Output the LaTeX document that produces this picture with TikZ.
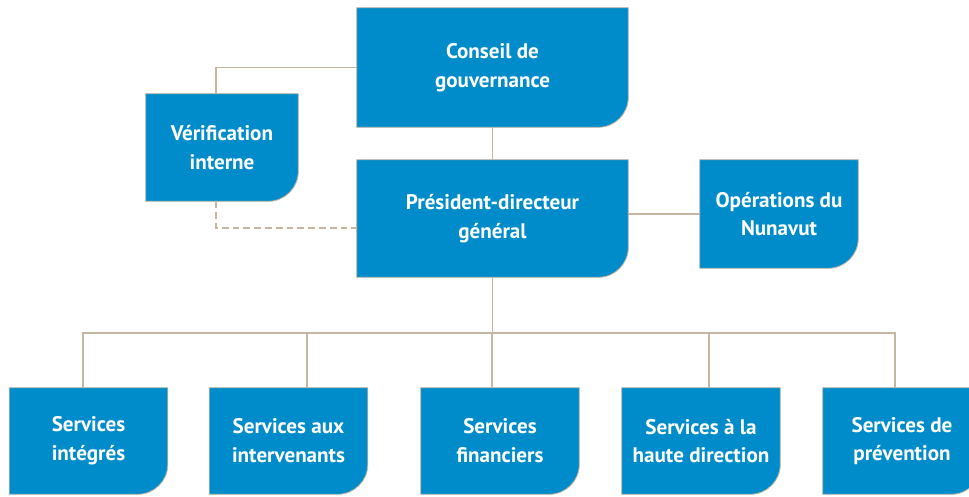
\documentclass[tikz,border=0pt]{standalone}
\usepackage{fontspec}
\setmainfont{PT Sans}
\usepackage{tikz}
\usetikzlibrary{backgrounds}
\definecolor{UNITCOLOR}{RGB}{0,140,202}
\definecolor{LINKCOLOR}{RGB}{196,182,160}
\newlength\unitRadius
\setlength\unitRadius{0.75cm}
\tikzset{
  unit-style/.style = {
    inner sep=2pt, align=center, text=white,
    font=\fontsize{15}{20.5}\selectfont\bfseries,
    minimum width=3.95cm,
    minimum height=2.65cm
  },
  top-style/.style = {
    unit-style,
    minimum width=6.775cm,
    minimum height=#1
  },
  side-style/.style = {
    unit-style,
    minimum width=#1,
    minimum height=2.7cm
  },
  link-style/.style = {
    draw=LINKCOLOR, line width=1.4pt
  },
  dashed-link-style/.style = {
    link-style, dash pattern=on 0.17cm off 0.1cm
  },
  shape-style/.style = {
    fill=UNITCOLOR, draw=LINKCOLOR, line width=0.6pt
  }
}
\def\createUnit name:#1 style:#2 at:#3 display:#4;{
  \node [#2] (#1) at (#3) {#4};
}
\newcommand\drawUnitShape[1]{
  \path[shape-style] (#1.north west) -- (#1.north east)
    -- ([yshift=\unitRadius]#1.south east)
    arc[start angle=0, end angle=-90, radius=\unitRadius]
    -- (#1.south west) -- cycle;
}

\begin{document}
\begin{tikzpicture}[x=0.025cm, y=0.025cm]
  \useasboundingbox (0,0) rectangle (969,496);

  \createUnit name:conseil style:{top-style=2.975cm} at:{492.5,428.5} display:{Conseil de\\gouvernance};
  \createUnit name:verif style:{side-style=3.8cm, minimum height=2.675cm} at:{222,348.5} display:{Vérification\\interne};
  \createUnit name:pdg style:{top-style=2.925cm} at:{492.5,277.5} display:{Président-directeur\\général};
  \createUnit name:ops style:{side-style=3.95cm} at:{779,282} display:{Opérations du\\Nunavut};

  \createUnit name:integres style:unit-style at:{88.5,55} display:{Services\\intégrés};
  \createUnit name:intervenants style:unit-style at:{288.5,55} display:{Services aux\\intervenants};
  \createUnit name:financiers style:unit-style at:{500,55} display:{Services\\financiers};
  \createUnit name:haute style:unit-style at:{701,55} display:{Services à la\\haute direction};
  \createUnit name:prevention style:unit-style at:{902,55} display:{Services de\\prévention};

  \begin{pgfonlayer}{background}
    \foreach \unit in {conseil,verif,pdg,ops,integres,intervenants,financiers,haute,prevention}
      {\drawUnitShape{\unit}}
  \end{pgfonlayer}

  % liens
  \draw[link-style] (conseil.south) -- (pdg.north);
  \draw[link-style] (conseil.west) -| ([xshift=-0.15cm]verif.north);
  \draw[dashed-link-style] ([xshift=-0.15cm]verif.south) |- ([yshift=-0.2375cm]pdg.west);
  \draw[link-style] (pdg.east |- ops.west) -- (ops.west);

  \coordinate (bus) at ([yshift=-1.4cm]pdg.south);
  \draw[link-style] (pdg.south) -- (bus);
  \draw[link-style] (bus) -| ([xshift=-0.1375cm]integres.north);
  \draw[link-style] (bus) -| ([xshift=0.4625cm]intervenants.north);
  \draw[link-style] (bus) -| ([xshift=-0.2cm]financiers.north);
  \draw[link-style] (bus) -| ([xshift=0.2cm]haute.north);
  \draw[link-style] (bus) -| ([xshift=-0.175cm]prevention.north);
\end{tikzpicture}
\end{document}
